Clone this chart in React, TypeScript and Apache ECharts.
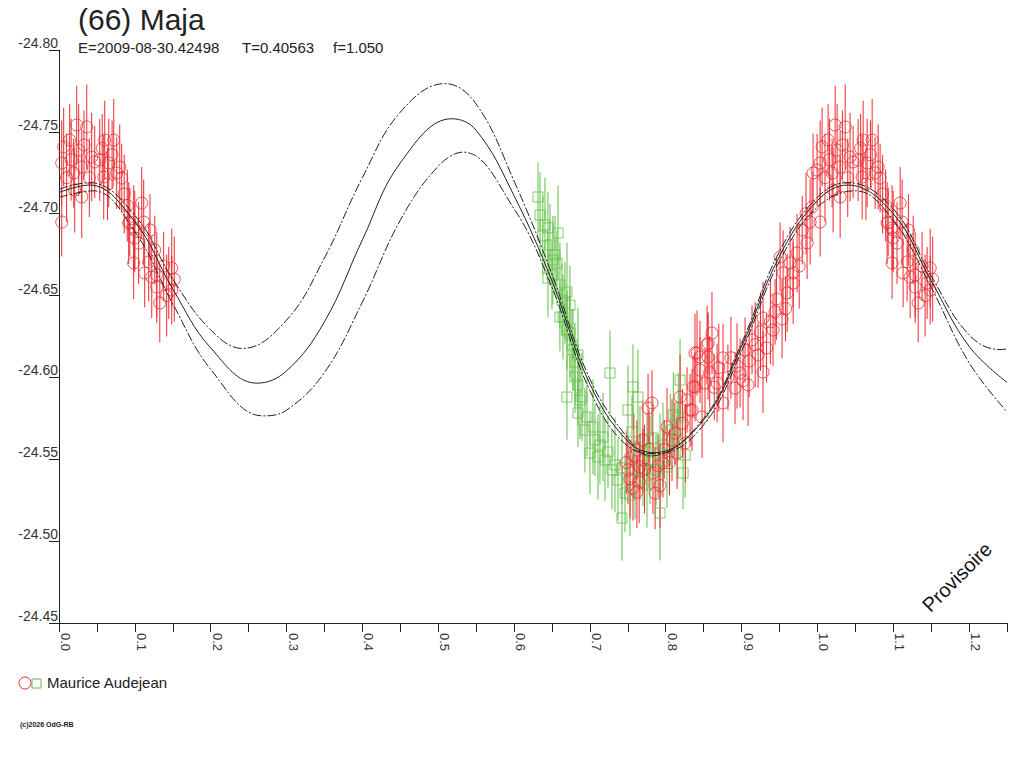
import { useEffect, useRef } from 'react';
import * as echarts from 'echarts';

// model curves: [phase, mag], middle fit and its two envelopes
const fitMid = [
  [0, -24.713], [0.04, -24.7175], [0.1, -24.695], [0.15, -24.654], [0.2, -24.618], [0.261, -24.5965],
  [0.3, -24.604], [0.35, -24.634], [0.4, -24.684], [0.45, -24.731], [0.518, -24.758], [0.55, -24.751],
  [0.6, -24.711], [0.65, -24.659], [0.7, -24.596], [0.75, -24.561], [0.785, -24.554], [0.85, -24.574],
  [0.9, -24.619], [0.95, -24.674], [1.0, -24.708], [1.04, -24.7175], [1.1, -24.7], [1.15, -24.659],
  [1.2, -24.619], [1.25, -24.597],
];
const fitHigh = [
  [0, -24.715], [0.04, -24.719], [0.1, -24.699], [0.15, -24.66], [0.2, -24.629], [0.242, -24.6177],
  [0.3, -24.635], [0.35, -24.673], [0.4, -24.722], [0.45, -24.762], [0.509, -24.7795], [0.55, -24.767],
  [0.6, -24.72], [0.65, -24.663], [0.7, -24.599], [0.75, -24.563], [0.78, -24.552], [0.85, -24.575],
  [0.9, -24.621], [0.95, -24.677], [1.0, -24.71], [1.04, -24.719], [1.1, -24.703], [1.15, -24.662],
  [1.2, -24.626], [1.242, -24.617], [1.25, -24.6175],
];
const fitLow = [
  [0, -24.71], [0.045, -24.714], [0.1, -24.689], [0.15, -24.645], [0.2, -24.605], [0.269, -24.5765],
  [0.3, -24.58], [0.35, -24.603], [0.4, -24.646], [0.45, -24.696], [0.5, -24.729], [0.533, -24.7376],
  [0.6, -24.703], [0.65, -24.655], [0.7, -24.592], [0.75, -24.558], [0.79, -24.5535], [0.85, -24.571],
  [0.9, -24.616], [0.95, -24.671], [1.0, -24.704], [1.05, -24.714], [1.1, -24.696], [1.15, -24.655],
  [1.2, -24.609], [1.25, -24.579],
];

// observations: [phase, mag, error]
const redObs = [
  [0.7502, -24.5435, 0.021], [0.748, -24.548, 0.019], [0.753, -24.538, 0.024], [0.7568, -24.5325, 0.02],
  [0.758, -24.552, 0.026], [0.762, -24.53, 0.022], [0.762, -24.5557, 0.018], [0.765, -24.536, 0.025],
  [0.7661, -24.5453, 0.02], [0.77, -24.5618, 0.024], [0.77, -24.5496, 0.019], [0.772, -24.544, 0.027],
  [0.7767, -24.5813, 0.021], [0.778, -24.556, 0.024], [0.7819, -24.5844, 0.02], [0.7832, -24.5416, 0.025],
  [0.786, -24.5293, 0.022], [0.79, -24.546, 0.019], [0.7925, -24.534, 0.026], [0.7964, -24.5477, 0.021],
  [0.798, -24.556, 0.018], [0.8017, -24.5697, 0.024], [0.805, -24.548, 0.02], [0.8083, -24.5618, 0.025],
  [0.812, -24.566, 0.019], [0.815, -24.5539, 0.022], [0.8189, -24.588, 0.026], [0.822, -24.572, 0.021],
  [0.826, -24.56, 0.024], [0.8281, -24.5862, 0.02], [0.8321, -24.5801, 0.022], [0.8347, -24.5801, 0.025],
  [0.836, -24.5942, 0.019], [0.8386, -24.6149, 0.024], [0.8386, -24.5942, 0.021], [0.8413, -24.6149, 0.026],
  [0.8452, -24.6045, 0.02], [0.8452, -24.6125, 0.022], [0.8479, -24.5758, 0.025], [0.8518, -24.5966, 0.021],
  [0.8545, -24.6198, 0.024], [0.8558, -24.621, 0.019], [0.8558, -24.6125, 0.026], [0.858, -24.603, 0.022],
  [0.861, -24.6271, 0.025], [0.864, -24.594, 0.02], [0.8677, -24.5966, 0.024], [0.87, -24.606, 0.027],
  [0.8756, -24.6119, 0.021], [0.8756, -24.5844, 0.024], [0.882, -24.6, 0.02], [0.886, -24.612, 0.025],
  [0.8914, -24.5935, 0.022], [0.894, -24.607, 0.026], [0.898, -24.6027, 0.021], [0.902, -24.598, 0.024],
  [0.9046, -24.6167, 0.02], [0.9086, -24.5954, 0.025], [0.91, -24.61, 0.022], [0.9138, -24.6229, 0.021],
  [0.918, -24.62, 0.026], [0.9218, -24.6137, 0.02], [0.925, -24.628, 0.024], [0.9283, -24.6363, 0.022],
  [0.9283, -24.6033, 0.025], [0.933, -24.618, 0.021], [0.938, -24.634, 0.026], [0.9415, -24.629, 0.022],
  [0.9442, -24.64, 0.02], [0.946, -24.648, 0.025], [0.9508, -24.6736, 0.021], [0.9534, -24.6357, 0.024],
  [0.9548, -24.6638, 0.026], [0.958, -24.642, 0.02], [0.9601, -24.6516, 0.024], [0.964, -24.6699, 0.022],
  [0.968, -24.6577, 0.025], [0.968, -24.6638, 0.021], [0.9732, -24.676, 0.024], [0.976, -24.668, 0.026],
  [0.98, -24.69, 0.021], [0.985, -24.7, 0.025], [0.9864, -24.6821, 0.022], [0.9904, -24.6949, 0.026],
  [0.993, -24.7041, 0.021], [0.9943, -24.7249, 0.024], [0.9996, -24.7267, 0.022], [1.0036, -24.731, 0.026],
  [1.0036, -24.6949, 0.021], [1.0062, -24.7408, 0.024], [1.01, -24.722, 0.027], [1.0141, -24.745, 0.022],
  [1.016, -24.733, 0.025], [1.0194, -24.7249, 0.021], [1.0207, -24.7145, 0.026], [1.0234, -24.7542, 0.024],
  [1.026, -24.7389, 0.028], [1.03, -24.7285, 0.022], [1.03, -24.7102, 0.025], [1.033, -24.742, 0.021],
  [1.0366, -24.753, 0.026], [1.04, -24.722, 0.024], [1.0431, -24.7346, 0.027], [1.0471, -24.7316, 0.022],
  [1.0537, -24.7328, 0.025], [1.057, -24.74, 0.021], [1.059, -24.7224, 0.026], [1.0603, -24.745, 0.024],
  [1.064, -24.718, 0.022], [1.0656, -24.731, 0.027], [1.07, -24.736, 0.021], [1.0722, -24.745, 0.025],
  [1.0761, -24.7249, 0.022], [1.0801, -24.7285, 0.026], [1.0827, -24.7218, 0.021], [1.086, -24.712, 0.024],
  [1.09, -24.705, 0.022], [1.0919, -24.6943, 0.025], [1.0933, -24.6949, 0.021], [1.0985, -24.6913, 0.026],
  [1.0985, -24.6699, 0.022], [1.0999, -24.69, 0.024], [1.0999, -24.6852, 0.021], [1.105, -24.682, 0.025],
  [1.1091, -24.7065, 0.022], [1.1117, -24.6949, 0.026], [1.113, -24.6638, 0.021], [1.1183, -24.6705, 0.024],
  [1.12, -24.69, 0.022], [1.1223, -24.6613, 0.025], [1.1263, -24.6778, 0.021], [1.1289, -24.6626, 0.026],
  [1.1289, -24.6552, 0.022], [1.1329, -24.6455, 0.024], [1.138, -24.668, 0.021], [1.142, -24.65, 0.025],
  [1.1447, -24.6577, 0.022], [1.1487, -24.6668, 0.024], [1.1487, -24.6534, 0.021], [1.152, -24.66, 0.026],
];

const greenObs = [
  [0.6316, -24.7102, 0.021], [0.6343, -24.6992, 0.026], [0.6379, -24.6864, 0.024], [0.6408, -24.6931, 0.029],
  [0.6447, -24.6913, 0.022], [0.6474, -24.6809, 0.025], [0.65, -24.6626, 0.021], [0.6513, -24.6717, 0.027],
  [0.654, -24.6748, 0.024], [0.6566, -24.6699, 0.02], [0.658, -24.6882, 0.029], [0.6447, -24.6607, 0.024],
  [0.6605, -24.6565, 0.026], [0.6632, -24.6473, 0.022], [0.6671, -24.6455, 0.025], [0.6698, -24.6522, 0.03],
  [0.6737, -24.6442, 0.024], [0.6605, -24.6369, 0.021], [0.6645, -24.6369, 0.026], [0.6698, -24.629, 0.024],
  [0.6737, -24.6271, 0.027], [0.6764, -24.6198, 0.022], [0.6777, -24.6168, 0.025], [0.6803, -24.6094, 0.024],
  [0.6843, -24.6137, 0.029], [0.6698, -24.588, 0.026], [0.6803, -24.6003, 0.022], [0.6843, -24.5954, 0.025],
  [0.687, -24.5862, 0.024], [0.6896, -24.588, 0.027], [0.6843, -24.5783, 0.021], [0.6935, -24.5679, 0.026],
  [0.6962, -24.5758, 0.024], [0.7001, -24.5538, 0.025], [0.7041, -24.5697, 0.029], [0.7067, -24.5618, 0.022],
  [0.7107, -24.5514, 0.026], [0.7133, -24.5587, 0.024], [0.7173, -24.5636, 0.027], [0.7199, -24.5496, 0.025],
  [0.7239, -24.5545, 0.022], [0.7265, -24.6027, 0.026], [0.7291, -24.5435, 0.024], [0.7331, -24.5465, 0.029],
  [0.737, -24.5374, 0.025], [0.7423, -24.5447, 0.022], [0.7423, -24.5141, 0.026], [0.7463, -24.5294, 0.024],
  [0.7502, -24.5801, 0.027], [0.7529, -24.5282, 0.025], [0.7555, -24.5667, 0.022], [0.7568, -24.5942, 0.026],
  [0.7595, -24.5374, 0.024], [0.7634, -24.588, 0.029], [0.7661, -24.5575, 0.025], [0.77, -24.5435, 0.022],
  [0.7753, -24.5343, 0.026], [0.7753, -24.5545, 0.024], [0.7793, -24.5496, 0.027], [0.7832, -24.563, 0.025],
  [0.7872, -24.5435, 0.022], [0.7925, -24.5172, 0.029], [0.7925, -24.5538, 0.024], [0.7964, -24.5587, 0.026],
  [0.8017, -24.5453, 0.025], [0.806, -24.5679, 0.022], [0.81, -24.5771, 0.026], [0.815, -24.5618, 0.024],
  [0.8166, -24.5758, 0.027], [0.8189, -24.5984, 0.025], [0.8229, -24.5416, 0.022], [0.8256, -24.5526, 0.026],
];

const yTicks = [-24.8, -24.75, -24.7, -24.65, -24.6, -24.55, -24.5, -24.45];

const RED = '#ee2a30';
const GREEN = '#5fbf45';
const INK = '#222222';
const FONT = '"Liberation Sans", Arial, sans-serif';

// a full cycle is 1.0 in phase, so points past 1 are repeated at the start
const wrap = (pts: number[][]) => pts.concat(pts.filter((p) => p[0] >= 1).map((p) => [p[0] - 1, p[1], p[2]]));

const errorBars = (data: number[][], color: string) => ({
  type: 'custom',
  data,
  encode: { x: 0, y: 1 },
  clip: true,
  z: 2,
  renderItem: (_params: any, api: any) => {
    const x = api.value(0);
    const y = api.value(1);
    const e = api.value(2);
    const a = api.coord([x, y - e]);
    const b = api.coord([x, y + e]);
    return {
      type: 'line',
      shape: { x1: a[0], y1: a[1], x2: b[0], y2: b[1] },
      style: { stroke: color, lineWidth: 1 },
    };
  },
});

const curve = (pts: number[][], dashed: boolean) => ({
  type: 'line',
  data: pts,
  smooth: 0.4,
  showSymbol: false,
  silent: true,
  z: 4,
  lineStyle: { color: INK, width: 1, type: dashed ? [9, 2, 2, 2] : 'solid' },
});

const MajaLightCurve = () => {
  const chartRef = useRef<HTMLDivElement | null>(null);

  useEffect(() => {
    if (!chartRef.current) return;
    const chart = echarts.init(chartRef.current, null, { renderer: 'svg' });
    const red = wrap(redObs);

    const option = {
      animation: false,
      grid: { left: 59, top: 50, right: 17, bottom: 145 },
      xAxis: {
        type: 'value',
        min: 0,
        max: 1.25,
        interval: 0.05,
        axisLine: { onZero: false, lineStyle: { color: INK, width: 1 } },
        axisTick: { length: 9, lineStyle: { color: INK } },
        splitLine: { show: false },
        axisLabel: {
          rotate: -90,
          margin: 10,
          verticalAlign: 'bottom',
          color: '#333',
          fontFamily: FONT,
          fontSize: 13,
          formatter: (v: number) => (Math.round(v * 20) % 2 === 0 ? v.toFixed(1) : ''),
        },
      },
      yAxis: {
        type: 'value',
        inverse: true,
        min: yTicks[0],
        max: yTicks[yTicks.length - 1],
        interval: 0.05,
        axisLine: { show: true, lineStyle: { color: INK, width: 1 } },
        axisTick: { show: true, length: 10, lineStyle: { color: INK } },
        splitLine: { show: false },
        axisLabel: {
          margin: 1,
          verticalAlign: 'bottom',
          color: '#333',
          fontFamily: FONT,
          fontSize: 14,
          formatter: (v: number) => v.toFixed(2),
        },
      },
      series: [
        errorBars(greenObs, GREEN),
        errorBars(red, RED),
        {
          type: 'scatter',
          data: greenObs.map((p) => [p[0], p[1]]),
          symbol: 'rect',
          symbolSize: 10,
          z: 3,
          itemStyle: { color: 'transparent', borderColor: GREEN, borderWidth: 1 },
        },
        {
          type: 'scatter',
          data: red.map((p) => [p[0], p[1]]),
          symbol: 'circle',
          symbolSize: 12,
          z: 3,
          itemStyle: { color: 'transparent', borderColor: RED, borderWidth: 1 },
        },
        curve(fitHigh, true),
        curve(fitLow, true),
        curve(fitMid, false),
      ],
      graphic: [
        { type: 'text', left: 78, top: 4, style: { text: '(66) Maja', font: `30px ${FONT}`, fill: INK } },
        { type: 'text', left: 78, top: 40, style: { text: 'E=2009-08-30.42498', font: `15px ${FONT}`, fill: INK } },
        { type: 'text', left: 242, top: 40, style: { text: 'T=0.40563', font: `15px ${FONT}`, fill: INK } },
        { type: 'text', left: 333, top: 40, style: { text: 'f=1.050', font: `15px ${FONT}`, fill: INK } },
        {
          type: 'text',
          x: 957,
          y: 577,
          rotation: Math.PI / 4,
          style: { text: 'Provisoire', font: `20px ${FONT}`, fill: '#111', align: 'center', verticalAlign: 'middle' },
        },
        { type: 'circle', shape: { cx: 25, cy: 683, r: 6 }, style: { fill: 'none', stroke: RED, lineWidth: 1 } },
        { type: 'rect', shape: { x: 32, y: 679, width: 9, height: 9 }, style: { fill: 'none', stroke: GREEN, lineWidth: 1 } },
        { type: 'text', left: 47, top: 675, style: { text: 'Maurice Audejean', font: `15px ${FONT}`, fill: INK } },
        { type: 'text', left: 20, top: 721, style: { text: '(c)2026 OdG-RB', font: `bold 7px ${FONT}`, fill: INK } },
      ],
    };

    chart.setOption(option as any);
    return () => {
      chart.dispose();
    };
  }, []);

  return <div ref={chartRef} style={{ position: 'fixed', left: 0, top: 0, width: '1024px', height: '768px', background: '#fff' }} />;
};

export default function App() {
  return <MajaLightCurve />;
}
